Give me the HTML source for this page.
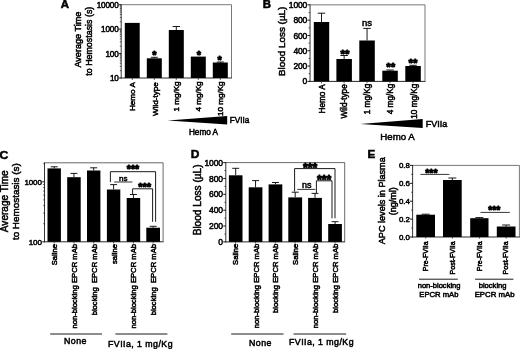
<!DOCTYPE html>
<html><head><meta charset="utf-8"><title>Figure</title>
<style>html,body{margin:0;padding:0;background:#fff}svg{display:block;filter:blur(0.4px)}</style>
</head><body>
<svg width="520" height="349" viewBox="0 0 520 349" font-family="Liberation Sans, sans-serif" fill="#000">
<style>text{stroke:#000;stroke-width:0.5px}text.st{stroke-width:0.9px;stroke-linejoin:round}</style>
<rect width="520" height="349" fill="#fff"/>
<text transform="translate(60.80 8.40) scale(1.1 1)" font-size="10.4" font-weight="bold">A</text>
<polyline points="121.20,4.70 231.50,4.70 231.50,78.00" fill="none" stroke="#555" stroke-width="0.8"/>
<line x1="121.20" y1="4.30" x2="121.20" y2="78.50" stroke="#2a2a2a" stroke-width="0.95"/>
<line x1="120.70" y1="78.00" x2="231.90" y2="78.00" stroke="#2a2a2a" stroke-width="1.0"/>
<line x1="132.30" y1="78.00" x2="132.30" y2="80.00" stroke="#222" stroke-width="0.7"/>
<line x1="154.30" y1="78.00" x2="154.30" y2="80.00" stroke="#222" stroke-width="0.7"/>
<line x1="176.30" y1="78.00" x2="176.30" y2="80.00" stroke="#222" stroke-width="0.7"/>
<line x1="198.30" y1="78.00" x2="198.30" y2="80.00" stroke="#222" stroke-width="0.7"/>
<line x1="220.30" y1="78.00" x2="220.30" y2="80.00" stroke="#222" stroke-width="0.7"/>
<line x1="119.00" y1="4.70" x2="121.20" y2="4.70" stroke="#000" stroke-width="0.9"/>
<text x="118.70" y="7.65" font-size="8.2" text-anchor="end" letter-spacing="-0.15">10000</text>
<line x1="119.00" y1="29.13" x2="121.20" y2="29.13" stroke="#000" stroke-width="0.9"/>
<text x="118.70" y="32.09" font-size="8.2" text-anchor="end" letter-spacing="-0.15">1000</text>
<line x1="119.00" y1="53.57" x2="121.20" y2="53.57" stroke="#000" stroke-width="0.9"/>
<text x="118.70" y="56.52" font-size="8.2" text-anchor="end" letter-spacing="-0.15">100</text>
<line x1="119.00" y1="78.00" x2="121.20" y2="78.00" stroke="#000" stroke-width="0.9"/>
<text x="118.70" y="80.95" font-size="8.2" text-anchor="end" letter-spacing="-0.15">10</text>
<line x1="119.80" y1="70.64" x2="121.20" y2="70.64" stroke="#000" stroke-width="0.6"/>
<line x1="119.80" y1="66.34" x2="121.20" y2="66.34" stroke="#000" stroke-width="0.6"/>
<line x1="119.80" y1="63.29" x2="121.20" y2="63.29" stroke="#000" stroke-width="0.6"/>
<line x1="119.80" y1="60.92" x2="121.20" y2="60.92" stroke="#000" stroke-width="0.6"/>
<line x1="119.80" y1="58.99" x2="121.20" y2="58.99" stroke="#000" stroke-width="0.6"/>
<line x1="119.80" y1="57.35" x2="121.20" y2="57.35" stroke="#000" stroke-width="0.6"/>
<line x1="119.80" y1="55.93" x2="121.20" y2="55.93" stroke="#000" stroke-width="0.6"/>
<line x1="119.80" y1="54.68" x2="121.20" y2="54.68" stroke="#000" stroke-width="0.6"/>
<line x1="119.80" y1="46.21" x2="121.20" y2="46.21" stroke="#000" stroke-width="0.6"/>
<line x1="119.80" y1="41.91" x2="121.20" y2="41.91" stroke="#000" stroke-width="0.6"/>
<line x1="119.80" y1="38.86" x2="121.20" y2="38.86" stroke="#000" stroke-width="0.6"/>
<line x1="119.80" y1="36.49" x2="121.20" y2="36.49" stroke="#000" stroke-width="0.6"/>
<line x1="119.80" y1="34.55" x2="121.20" y2="34.55" stroke="#000" stroke-width="0.6"/>
<line x1="119.80" y1="32.92" x2="121.20" y2="32.92" stroke="#000" stroke-width="0.6"/>
<line x1="119.80" y1="31.50" x2="121.20" y2="31.50" stroke="#000" stroke-width="0.6"/>
<line x1="119.80" y1="30.25" x2="121.20" y2="30.25" stroke="#000" stroke-width="0.6"/>
<line x1="119.80" y1="21.78" x2="121.20" y2="21.78" stroke="#000" stroke-width="0.6"/>
<line x1="119.80" y1="17.48" x2="121.20" y2="17.48" stroke="#000" stroke-width="0.6"/>
<line x1="119.80" y1="14.42" x2="121.20" y2="14.42" stroke="#000" stroke-width="0.6"/>
<line x1="119.80" y1="12.06" x2="121.20" y2="12.06" stroke="#000" stroke-width="0.6"/>
<line x1="119.80" y1="10.12" x2="121.20" y2="10.12" stroke="#000" stroke-width="0.6"/>
<line x1="119.80" y1="8.48" x2="121.20" y2="8.48" stroke="#000" stroke-width="0.6"/>
<line x1="119.80" y1="7.07" x2="121.20" y2="7.07" stroke="#000" stroke-width="0.6"/>
<line x1="119.80" y1="5.82" x2="121.20" y2="5.82" stroke="#000" stroke-width="0.6"/>
<rect x="124.80" y="22.90" width="14.90" height="55.10" fill="#000"/>
<rect x="146.80" y="58.30" width="15.00" height="19.70" fill="#000"/>
<line x1="154.30" y1="57.30" x2="154.30" y2="58.30" stroke="#000" stroke-width="0.9"/>
<line x1="150.80" y1="57.30" x2="157.80" y2="57.30" stroke="#000" stroke-width="0.9"/>
<rect x="168.80" y="30.00" width="15.00" height="48.00" fill="#000"/>
<line x1="176.30" y1="26.50" x2="176.30" y2="30.00" stroke="#000" stroke-width="0.9"/>
<line x1="172.55" y1="26.50" x2="180.05" y2="26.50" stroke="#000" stroke-width="0.9"/>
<rect x="190.80" y="56.60" width="15.00" height="21.40" fill="#000"/>
<rect x="212.80" y="62.50" width="15.00" height="15.50" fill="#000"/>
<line x1="220.30" y1="62.00" x2="220.30" y2="62.50" stroke="#000" stroke-width="0.9"/>
<line x1="216.80" y1="62.00" x2="223.80" y2="62.00" stroke="#000" stroke-width="0.9"/>
<text x="154.30" y="59.41" font-size="11" text-anchor="middle" font-weight="bold" class="st">*</text>
<text x="198.80" y="58.71" font-size="11" text-anchor="middle" font-weight="bold" class="st">*</text>
<text x="219.70" y="63.91" font-size="11" text-anchor="middle" font-weight="bold" class="st">*</text>
<text x="81.48" y="39.60" font-size="9.1" text-anchor="middle" transform="rotate(-90 81.48 39.60)" >Average Time</text>
<text x="92.30" y="41.20" font-size="8.9" text-anchor="middle" transform="rotate(-90 92.30 41.20)" >to Hemostasis (s)</text>
<text x="135.42" y="82.20" font-size="8.1" text-anchor="end" transform="rotate(-90 135.42 82.20)" >Hemo A</text>
<text x="157.52" y="82.20" font-size="8.1" text-anchor="end" transform="rotate(-90 157.52 82.20)" >Wild-type</text>
<text x="179.42" y="81.40" font-size="8.1" text-anchor="end" transform="rotate(-90 179.42 81.40)" >1 mg/Kg</text>
<text x="201.42" y="81.40" font-size="8.1" text-anchor="end" transform="rotate(-90 201.42 81.40)" >4 mg/Kg</text>
<text x="223.42" y="81.40" font-size="8.1" text-anchor="end" transform="rotate(-90 223.42 81.40)" >10 mg/Kg</text>
<polygon points="167.7,120.6 227.2,116 227.2,124.6"/>
<text x="229.70" y="123.20" font-size="8.2" text-anchor="start" >FVIIa</text>
<text x="203.50" y="135.00" font-size="8.2" text-anchor="middle" >Hemo A</text>
<text transform="translate(262.80 8.20) scale(1.12 1)" font-size="10.2" font-weight="bold">B</text>
<polyline points="310.05,4.85 425.00,4.85 425.00,81.40" fill="none" stroke="#555" stroke-width="0.8"/>
<line x1="310.05" y1="4.45" x2="310.05" y2="81.90" stroke="#2a2a2a" stroke-width="0.95"/>
<line x1="309.55" y1="81.40" x2="425.40" y2="81.40" stroke="#2a2a2a" stroke-width="1.0"/>
<line x1="321.50" y1="81.40" x2="321.50" y2="83.40" stroke="#222" stroke-width="0.7"/>
<line x1="344.10" y1="81.40" x2="344.10" y2="83.40" stroke="#222" stroke-width="0.7"/>
<line x1="367.00" y1="81.40" x2="367.00" y2="83.40" stroke="#222" stroke-width="0.7"/>
<line x1="390.00" y1="81.40" x2="390.00" y2="83.40" stroke="#222" stroke-width="0.7"/>
<line x1="413.00" y1="81.40" x2="413.00" y2="83.40" stroke="#222" stroke-width="0.7"/>
<line x1="307.45" y1="4.85" x2="310.05" y2="4.85" stroke="#000" stroke-width="0.9"/>
<text x="307.15" y="7.91" font-size="8.5" text-anchor="end" letter-spacing="-0.15">1000</text>
<line x1="307.45" y1="20.16" x2="310.05" y2="20.16" stroke="#000" stroke-width="0.9"/>
<text x="307.15" y="23.22" font-size="8.5" text-anchor="end" letter-spacing="-0.15">800</text>
<line x1="307.45" y1="35.47" x2="310.05" y2="35.47" stroke="#000" stroke-width="0.9"/>
<text x="307.15" y="38.53" font-size="8.5" text-anchor="end" letter-spacing="-0.15">600</text>
<line x1="307.45" y1="50.78" x2="310.05" y2="50.78" stroke="#000" stroke-width="0.9"/>
<text x="307.15" y="53.84" font-size="8.5" text-anchor="end" letter-spacing="-0.15">400</text>
<line x1="307.45" y1="66.09" x2="310.05" y2="66.09" stroke="#000" stroke-width="0.9"/>
<text x="307.15" y="69.15" font-size="8.5" text-anchor="end" letter-spacing="-0.15">200</text>
<line x1="307.45" y1="81.40" x2="310.05" y2="81.40" stroke="#000" stroke-width="0.9"/>
<text x="307.15" y="84.46" font-size="8.5" text-anchor="end" letter-spacing="-0.15">0</text>
<line x1="308.55" y1="12.51" x2="310.05" y2="12.51" stroke="#000" stroke-width="0.6"/>
<line x1="308.55" y1="27.82" x2="310.05" y2="27.82" stroke="#000" stroke-width="0.6"/>
<line x1="308.55" y1="43.13" x2="310.05" y2="43.13" stroke="#000" stroke-width="0.6"/>
<line x1="308.55" y1="58.44" x2="310.05" y2="58.44" stroke="#000" stroke-width="0.6"/>
<line x1="308.55" y1="73.75" x2="310.05" y2="73.75" stroke="#000" stroke-width="0.6"/>
<rect x="313.80" y="22.00" width="15.40" height="59.40" fill="#000"/>
<line x1="321.50" y1="13.20" x2="321.50" y2="22.00" stroke="#000" stroke-width="0.9"/>
<line x1="317.75" y1="13.20" x2="325.25" y2="13.20" stroke="#000" stroke-width="0.9"/>
<rect x="336.40" y="59.00" width="15.50" height="22.40" fill="#000"/>
<line x1="344.15" y1="55.50" x2="344.15" y2="59.00" stroke="#000" stroke-width="0.9"/>
<line x1="340.40" y1="55.50" x2="347.90" y2="55.50" stroke="#000" stroke-width="0.9"/>
<rect x="359.30" y="40.50" width="15.50" height="40.90" fill="#000"/>
<line x1="367.05" y1="28.40" x2="367.05" y2="40.50" stroke="#000" stroke-width="0.9"/>
<line x1="363.30" y1="28.40" x2="370.80" y2="28.40" stroke="#000" stroke-width="0.9"/>
<rect x="382.30" y="70.70" width="15.50" height="10.70" fill="#000"/>
<line x1="390.05" y1="70.00" x2="390.05" y2="70.70" stroke="#000" stroke-width="0.9"/>
<line x1="386.30" y1="70.00" x2="393.80" y2="70.00" stroke="#000" stroke-width="0.9"/>
<rect x="405.30" y="66.00" width="15.50" height="15.40" fill="#000"/>
<line x1="413.05" y1="65.30" x2="413.05" y2="66.00" stroke="#000" stroke-width="0.9"/>
<line x1="409.30" y1="65.30" x2="416.80" y2="65.30" stroke="#000" stroke-width="0.9"/>
<text x="344.90" y="58.37" font-size="11.5" text-anchor="middle" font-weight="bold" class="st">**</text>
<text x="367.00" y="26.20" font-size="9.5" text-anchor="middle" >ns</text>
<text x="390.70" y="71.36" font-size="11.5" text-anchor="middle" font-weight="bold" class="st">**</text>
<text x="412.90" y="67.36" font-size="11.5" text-anchor="middle" font-weight="bold" class="st">**</text>
<text x="284.56" y="41.30" font-size="9.9" text-anchor="middle" transform="rotate(-90 284.56 41.30)" >Blood Loss (µL)</text>
<text x="324.75" y="84.30" font-size="8.2" text-anchor="end" transform="rotate(-90 324.75 84.30)" >Hemo A</text>
<text x="347.25" y="84.30" font-size="8.2" text-anchor="end" transform="rotate(-90 347.25 84.30)" >Wild-type</text>
<text x="370.45" y="83.70" font-size="8.2" text-anchor="end" transform="rotate(-90 370.45 83.70)" >1 mg/Kg</text>
<text x="393.15" y="83.70" font-size="8.2" text-anchor="end" transform="rotate(-90 393.15 83.70)" >4 mg/Kg</text>
<text x="416.85" y="83.70" font-size="8.2" text-anchor="end" transform="rotate(-90 416.85 83.70)" >10 mg/Kg</text>
<polygon points="360.2,124 422.7,118.9 422.7,127.9"/>
<text x="425.80" y="127.30" font-size="9.0" text-anchor="start" >FVIIa</text>
<text x="397.50" y="140.40" font-size="9.7" text-anchor="middle" >Hemo A</text>
<text transform="translate(-0.60 158.60) scale(1.05 1)" font-size="11.6" font-weight="bold">C</text>
<polyline points="44.50,162.80 163.10,162.80 163.10,241.80" fill="none" stroke="#444" stroke-width="0.8"/>
<line x1="44.50" y1="162.40" x2="44.50" y2="242.30" stroke="#2a2a2a" stroke-width="0.95"/>
<line x1="44.00" y1="241.80" x2="163.50" y2="241.80" stroke="#2a2a2a" stroke-width="1.0"/>
<line x1="54.20" y1="241.80" x2="54.20" y2="243.50" stroke="#222" stroke-width="0.7"/>
<line x1="74.00" y1="241.80" x2="74.00" y2="243.50" stroke="#222" stroke-width="0.7"/>
<line x1="93.70" y1="241.80" x2="93.70" y2="243.50" stroke="#222" stroke-width="0.7"/>
<line x1="113.60" y1="241.80" x2="113.60" y2="243.50" stroke="#222" stroke-width="0.7"/>
<line x1="133.40" y1="241.80" x2="133.40" y2="243.50" stroke="#222" stroke-width="0.7"/>
<line x1="153.10" y1="241.80" x2="153.10" y2="243.50" stroke="#222" stroke-width="0.7"/>
<line x1="42.20" y1="181.80" x2="44.50" y2="181.80" stroke="#000" stroke-width="0.9"/>
<text x="41.70" y="184.68" font-size="8" text-anchor="end" letter-spacing="-0.15">1000</text>
<line x1="42.20" y1="241.80" x2="44.50" y2="241.80" stroke="#000" stroke-width="0.9"/>
<text x="41.70" y="244.68" font-size="8" text-anchor="end" letter-spacing="-0.15">100</text>
<line x1="43.10" y1="223.74" x2="44.50" y2="223.74" stroke="#000" stroke-width="0.6"/>
<line x1="43.10" y1="213.17" x2="44.50" y2="213.17" stroke="#000" stroke-width="0.6"/>
<line x1="43.10" y1="205.68" x2="44.50" y2="205.68" stroke="#000" stroke-width="0.6"/>
<line x1="43.10" y1="199.86" x2="44.50" y2="199.86" stroke="#000" stroke-width="0.6"/>
<line x1="43.10" y1="195.11" x2="44.50" y2="195.11" stroke="#000" stroke-width="0.6"/>
<line x1="43.10" y1="191.09" x2="44.50" y2="191.09" stroke="#000" stroke-width="0.6"/>
<line x1="43.10" y1="187.61" x2="44.50" y2="187.61" stroke="#000" stroke-width="0.6"/>
<line x1="43.10" y1="184.55" x2="44.50" y2="184.55" stroke="#000" stroke-width="0.6"/>
<line x1="43.10" y1="163.74" x2="44.50" y2="163.74" stroke="#000" stroke-width="0.6"/>
<rect x="47.50" y="168.40" width="13.40" height="73.40" fill="#000"/>
<line x1="54.20" y1="166.80" x2="54.20" y2="168.40" stroke="#000" stroke-width="0.9"/>
<line x1="50.70" y1="166.80" x2="57.70" y2="166.80" stroke="#000" stroke-width="0.9"/>
<rect x="67.20" y="177.20" width="13.50" height="64.60" fill="#000"/>
<line x1="73.95" y1="173.40" x2="73.95" y2="177.20" stroke="#000" stroke-width="0.9"/>
<line x1="70.45" y1="173.40" x2="77.45" y2="173.40" stroke="#000" stroke-width="0.9"/>
<rect x="87.00" y="170.50" width="13.40" height="71.30" fill="#000"/>
<line x1="93.70" y1="167.80" x2="93.70" y2="170.50" stroke="#000" stroke-width="0.9"/>
<line x1="90.20" y1="167.80" x2="97.20" y2="167.80" stroke="#000" stroke-width="0.9"/>
<rect x="106.90" y="189.50" width="13.40" height="52.30" fill="#000"/>
<line x1="113.60" y1="184.60" x2="113.60" y2="189.50" stroke="#000" stroke-width="0.9"/>
<line x1="110.10" y1="184.60" x2="117.10" y2="184.60" stroke="#000" stroke-width="0.9"/>
<rect x="126.70" y="198.00" width="13.50" height="43.80" fill="#000"/>
<line x1="133.45" y1="194.50" x2="133.45" y2="198.00" stroke="#000" stroke-width="0.9"/>
<line x1="129.95" y1="194.50" x2="136.95" y2="194.50" stroke="#000" stroke-width="0.9"/>
<rect x="146.30" y="227.70" width="13.70" height="14.10" fill="#000"/>
<line x1="153.15" y1="226.30" x2="153.15" y2="227.70" stroke="#000" stroke-width="0.9"/>
<line x1="149.65" y1="226.30" x2="156.65" y2="226.30" stroke="#000" stroke-width="0.9"/>
<polyline points="110.40,182.00 110.40,171.70 155.60,171.70 155.60,221.80" fill="none" stroke="#000" stroke-width="0.9"/>
<polyline points="132.60,194.00 132.60,188.80 152.60,188.80 152.60,221.80" fill="none" stroke="#000" stroke-width="0.9"/>
<line x1="114.20" y1="182.00" x2="132.40" y2="182.00" stroke="#000" stroke-width="0.8"/>
<text x="123.20" y="181.20" font-size="8" text-anchor="middle" >ns</text>
<text x="133.00" y="172.71" font-size="10.6" text-anchor="middle" font-weight="bold" class="st">***</text>
<text x="144.70" y="191.01" font-size="11.2" text-anchor="middle" font-weight="bold" class="st">***</text>
<text x="7.82" y="201.25" font-size="10.05" text-anchor="middle" transform="rotate(-90 7.82 201.25)" >Average Time</text>
<text x="19.46" y="201.70" font-size="9.9" text-anchor="middle" transform="rotate(-90 19.46 201.70)" >to Hemostasis (s)</text>
<text x="56.95" y="244.00" font-size="7.65" text-anchor="end" transform="rotate(-90 56.95 244.00)" >Saline</text>
<text x="76.75" y="244.00" font-size="7.65" text-anchor="end" transform="rotate(-90 76.75 244.00)" >non-blocking EPCR mAb</text>
<text x="96.55" y="244.00" font-size="7.65" text-anchor="end" transform="rotate(-90 96.55 244.00)" >blocking&#160;&#160;EPCR mAb</text>
<text x="116.75" y="244.00" font-size="7.65" text-anchor="end" transform="rotate(-90 116.75 244.00)" >saline</text>
<text x="136.05" y="244.00" font-size="7.65" text-anchor="end" transform="rotate(-90 136.05 244.00)" >non-blocking EPCR mAb</text>
<text x="155.75" y="244.00" font-size="7.65" text-anchor="end" transform="rotate(-90 155.75 244.00)" >blocking&#160;&#160;EPCR mAb</text>
<line x1="50.20" y1="334.00" x2="102.00" y2="334.00" stroke="#000" stroke-width="0.9"/>
<line x1="115.40" y1="334.00" x2="167.40" y2="334.00" stroke="#000" stroke-width="0.9"/>
<text x="64.00" y="344.40" font-size="8.8" text-anchor="start" letter-spacing="0.45">None</text>
<text x="108.00" y="346.60" font-size="8.8" text-anchor="start" letter-spacing="0.45">FVIIa, 1 mg/Kg</text>
<text transform="translate(190.80 158.30) scale(1.05 1)" font-size="11.4" font-weight="bold">D</text>
<polyline points="225.80,162.60 344.70,162.60 344.70,241.90" fill="none" stroke="#444" stroke-width="0.8"/>
<line x1="225.80" y1="162.20" x2="225.80" y2="242.40" stroke="#2a2a2a" stroke-width="0.95"/>
<line x1="225.30" y1="241.90" x2="345.10" y2="241.90" stroke="#2a2a2a" stroke-width="1.0"/>
<line x1="235.50" y1="241.90" x2="235.50" y2="243.60" stroke="#222" stroke-width="0.7"/>
<line x1="255.40" y1="241.90" x2="255.40" y2="243.60" stroke="#222" stroke-width="0.7"/>
<line x1="275.30" y1="241.90" x2="275.30" y2="243.60" stroke="#222" stroke-width="0.7"/>
<line x1="295.10" y1="241.90" x2="295.10" y2="243.60" stroke="#222" stroke-width="0.7"/>
<line x1="315.00" y1="241.90" x2="315.00" y2="243.60" stroke="#222" stroke-width="0.7"/>
<line x1="335.00" y1="241.90" x2="335.00" y2="243.60" stroke="#222" stroke-width="0.7"/>
<line x1="223.20" y1="162.60" x2="225.80" y2="162.60" stroke="#000" stroke-width="0.9"/>
<text x="223.00" y="165.66" font-size="8.5" text-anchor="end" letter-spacing="-0.1">1000</text>
<line x1="223.20" y1="178.46" x2="225.80" y2="178.46" stroke="#000" stroke-width="0.9"/>
<text x="223.00" y="181.52" font-size="8.5" text-anchor="end" letter-spacing="-0.1">800</text>
<line x1="223.20" y1="194.32" x2="225.80" y2="194.32" stroke="#000" stroke-width="0.9"/>
<text x="223.00" y="197.38" font-size="8.5" text-anchor="end" letter-spacing="-0.1">600</text>
<line x1="223.20" y1="210.18" x2="225.80" y2="210.18" stroke="#000" stroke-width="0.9"/>
<text x="223.00" y="213.24" font-size="8.5" text-anchor="end" letter-spacing="-0.1">400</text>
<line x1="223.20" y1="226.04" x2="225.80" y2="226.04" stroke="#000" stroke-width="0.9"/>
<text x="223.00" y="229.10" font-size="8.5" text-anchor="end" letter-spacing="-0.1">200</text>
<line x1="223.20" y1="241.90" x2="225.80" y2="241.90" stroke="#000" stroke-width="0.9"/>
<text x="223.00" y="244.96" font-size="8.5" text-anchor="end" letter-spacing="-0.1">0</text>
<line x1="224.30" y1="170.53" x2="225.80" y2="170.53" stroke="#000" stroke-width="0.6"/>
<line x1="224.30" y1="186.39" x2="225.80" y2="186.39" stroke="#000" stroke-width="0.6"/>
<line x1="224.30" y1="202.25" x2="225.80" y2="202.25" stroke="#000" stroke-width="0.6"/>
<line x1="224.30" y1="218.11" x2="225.80" y2="218.11" stroke="#000" stroke-width="0.6"/>
<line x1="224.30" y1="233.97" x2="225.80" y2="233.97" stroke="#000" stroke-width="0.6"/>
<rect x="228.90" y="175.30" width="13.60" height="66.60" fill="#000"/>
<line x1="235.70" y1="168.30" x2="235.70" y2="175.30" stroke="#000" stroke-width="0.9"/>
<line x1="232.20" y1="168.30" x2="239.20" y2="168.30" stroke="#000" stroke-width="0.9"/>
<rect x="248.70" y="187.30" width="13.70" height="54.60" fill="#000"/>
<line x1="255.55" y1="180.60" x2="255.55" y2="187.30" stroke="#000" stroke-width="0.9"/>
<line x1="252.05" y1="180.60" x2="259.05" y2="180.60" stroke="#000" stroke-width="0.9"/>
<rect x="268.60" y="184.40" width="13.70" height="57.50" fill="#000"/>
<line x1="275.45" y1="182.50" x2="275.45" y2="184.40" stroke="#000" stroke-width="0.9"/>
<line x1="271.95" y1="182.50" x2="278.95" y2="182.50" stroke="#000" stroke-width="0.9"/>
<rect x="288.30" y="197.40" width="13.80" height="44.50" fill="#000"/>
<line x1="295.20" y1="192.20" x2="295.20" y2="197.40" stroke="#000" stroke-width="0.9"/>
<line x1="291.70" y1="192.20" x2="298.70" y2="192.20" stroke="#000" stroke-width="0.9"/>
<rect x="308.10" y="197.90" width="13.80" height="44.00" fill="#000"/>
<line x1="315.00" y1="193.40" x2="315.00" y2="197.90" stroke="#000" stroke-width="0.9"/>
<line x1="311.50" y1="193.40" x2="318.50" y2="193.40" stroke="#000" stroke-width="0.9"/>
<rect x="328.20" y="224.00" width="13.70" height="17.90" fill="#000"/>
<line x1="335.05" y1="221.70" x2="335.05" y2="224.00" stroke="#000" stroke-width="0.9"/>
<line x1="331.55" y1="221.70" x2="338.55" y2="221.70" stroke="#000" stroke-width="0.9"/>
<polyline points="294.60,191.50 294.60,168.60 335.00,168.60 335.00,218.30" fill="none" stroke="#000" stroke-width="0.9"/>
<polyline points="316.40,193.00 316.40,180.80 332.00,180.80 332.00,218.30" fill="none" stroke="#000" stroke-width="0.9"/>
<line x1="297.30" y1="189.40" x2="315.30" y2="189.40" stroke="#000" stroke-width="0.8"/>
<text x="306.80" y="188.20" font-size="9" text-anchor="middle" >ns</text>
<text x="310.20" y="172.37" font-size="12.3" text-anchor="middle" font-weight="bold" class="st">***</text>
<text x="324.20" y="184.17" font-size="12.3" text-anchor="middle" font-weight="bold" class="st">***</text>
<text x="200.94" y="199.90" font-size="10.1" text-anchor="middle" transform="rotate(-90 200.94 199.90)" >Blood Loss (µL)</text>
<text x="238.35" y="243.70" font-size="7.65" text-anchor="end" transform="rotate(-90 238.35 243.70)" >Saline</text>
<text x="258.75" y="243.70" font-size="7.65" text-anchor="end" transform="rotate(-90 258.75 243.70)" >non-blocking EPCR mAb</text>
<text x="278.35" y="243.70" font-size="7.65" text-anchor="end" transform="rotate(-90 278.35 243.70)" >blocking EPCR mAb</text>
<text x="297.95" y="243.70" font-size="7.65" text-anchor="end" transform="rotate(-90 297.95 243.70)" >Saline</text>
<text x="318.05" y="243.70" font-size="7.65" text-anchor="end" transform="rotate(-90 318.05 243.70)" >non-blocking EPCR mAb</text>
<text x="337.95" y="243.70" font-size="7.65" text-anchor="end" transform="rotate(-90 337.95 243.70)" >blocking EPCR mAb</text>
<line x1="231.20" y1="334.00" x2="283.50" y2="334.00" stroke="#000" stroke-width="0.9"/>
<line x1="293.50" y1="334.00" x2="346.20" y2="334.00" stroke="#000" stroke-width="0.9"/>
<text x="249.00" y="345.60" font-size="8.8" text-anchor="start" letter-spacing="0.45">None</text>
<text x="289.00" y="345.40" font-size="8.8" text-anchor="start" letter-spacing="0.45">FVIIa, 1 mg/Kg</text>
<text transform="translate(367.50 158.30) scale(1.12 1)" font-size="10.4" font-weight="bold">E</text>
<polyline points="412.60,165.40 519.40,165.40 519.40,237.00" fill="none" stroke="#555" stroke-width="0.8"/>
<line x1="412.60" y1="165.00" x2="412.60" y2="237.50" stroke="#2a2a2a" stroke-width="0.95"/>
<line x1="412.10" y1="237.00" x2="519.80" y2="237.00" stroke="#2a2a2a" stroke-width="1.0"/>
<line x1="425.70" y1="237.00" x2="425.70" y2="238.70" stroke="#222" stroke-width="0.7"/>
<line x1="452.40" y1="237.00" x2="452.40" y2="238.70" stroke="#222" stroke-width="0.7"/>
<line x1="479.40" y1="237.00" x2="479.40" y2="238.70" stroke="#222" stroke-width="0.7"/>
<line x1="506.20" y1="237.00" x2="506.20" y2="238.70" stroke="#222" stroke-width="0.7"/>
<line x1="410.00" y1="165.40" x2="412.60" y2="165.40" stroke="#000" stroke-width="0.9"/>
<text x="409.70" y="168.24" font-size="7.9" text-anchor="end" letter-spacing="-0.1">0.8</text>
<line x1="410.00" y1="183.30" x2="412.60" y2="183.30" stroke="#000" stroke-width="0.9"/>
<text x="409.70" y="186.14" font-size="7.9" text-anchor="end" letter-spacing="-0.1">0.6</text>
<line x1="410.00" y1="201.20" x2="412.60" y2="201.20" stroke="#000" stroke-width="0.9"/>
<text x="409.70" y="204.04" font-size="7.9" text-anchor="end" letter-spacing="-0.1">0.4</text>
<line x1="410.00" y1="219.10" x2="412.60" y2="219.10" stroke="#000" stroke-width="0.9"/>
<text x="409.70" y="221.94" font-size="7.9" text-anchor="end" letter-spacing="-0.1">0.2</text>
<line x1="410.00" y1="237.00" x2="412.60" y2="237.00" stroke="#000" stroke-width="0.9"/>
<text x="409.70" y="239.84" font-size="7.9" text-anchor="end" letter-spacing="-0.1">0.0</text>
<line x1="411.10" y1="174.35" x2="412.60" y2="174.35" stroke="#000" stroke-width="0.6"/>
<line x1="411.10" y1="192.25" x2="412.60" y2="192.25" stroke="#000" stroke-width="0.6"/>
<line x1="411.10" y1="210.15" x2="412.60" y2="210.15" stroke="#000" stroke-width="0.6"/>
<line x1="411.10" y1="228.05" x2="412.60" y2="228.05" stroke="#000" stroke-width="0.6"/>
<rect x="416.30" y="214.70" width="18.70" height="22.30" fill="#000"/>
<line x1="425.65" y1="214.20" x2="425.65" y2="214.70" stroke="#000" stroke-width="0.9"/>
<line x1="421.65" y1="214.20" x2="429.65" y2="214.20" stroke="#000" stroke-width="0.9"/>
<rect x="443.00" y="180.00" width="18.70" height="57.00" fill="#000"/>
<line x1="452.35" y1="178.00" x2="452.35" y2="180.00" stroke="#000" stroke-width="0.9"/>
<line x1="448.35" y1="178.00" x2="456.35" y2="178.00" stroke="#000" stroke-width="0.9"/>
<rect x="470.20" y="218.20" width="18.30" height="18.80" fill="#000"/>
<line x1="479.35" y1="217.60" x2="479.35" y2="218.20" stroke="#000" stroke-width="0.9"/>
<line x1="475.35" y1="217.60" x2="483.35" y2="217.60" stroke="#000" stroke-width="0.9"/>
<rect x="496.80" y="226.50" width="18.70" height="10.50" fill="#000"/>
<line x1="506.15" y1="225.00" x2="506.15" y2="226.50" stroke="#000" stroke-width="0.9"/>
<line x1="502.15" y1="225.00" x2="510.15" y2="225.00" stroke="#000" stroke-width="0.9"/>
<line x1="420.40" y1="174.40" x2="449.40" y2="174.40" stroke="#000" stroke-width="0.8"/>
<line x1="480.50" y1="212.40" x2="509.80" y2="212.40" stroke="#000" stroke-width="0.8"/>
<text x="431.40" y="176.66" font-size="10.5" text-anchor="middle" font-weight="bold" class="st">***</text>
<text x="494.30" y="214.30" font-size="10.4" text-anchor="middle" font-weight="bold" class="st">***</text>
<text x="384.58" y="200.75" font-size="9.1" text-anchor="middle" transform="rotate(-90 384.58 200.75)" >APC levels in Plasma</text>
<text x="395.94" y="201.20" font-size="9" text-anchor="middle" transform="rotate(-90 395.94 201.20)" >(ng/ml)</text>
<text x="428.42" y="241.30" font-size="7.0" text-anchor="end" transform="rotate(-90 428.42 241.30)" >Pre-FVIIa</text>
<text x="455.02" y="241.30" font-size="7.0" text-anchor="end" transform="rotate(-90 455.02 241.30)" >Post-FVIIa</text>
<text x="481.82" y="241.30" font-size="7.0" text-anchor="end" transform="rotate(-90 481.82 241.30)" >Pre-FVIIa</text>
<text x="508.12" y="241.30" font-size="7.0" text-anchor="end" transform="rotate(-90 508.12 241.30)" >Post-FVIIa</text>
<line x1="419.00" y1="279.20" x2="457.80" y2="279.20" stroke="#000" stroke-width="0.9"/>
<line x1="475.10" y1="279.20" x2="513.40" y2="279.20" stroke="#000" stroke-width="0.9"/>
<text x="439.10" y="288.20" font-size="7.55" text-anchor="middle" >non-blocking</text>
<text x="438.90" y="296.70" font-size="7.65" text-anchor="middle" >EPCR mAb</text>
<text x="492.60" y="288.20" font-size="7.6" text-anchor="middle" >blocking</text>
<text x="494.60" y="296.70" font-size="7.8" text-anchor="middle" >EPCR mAb</text>
</svg>
</body></html>
